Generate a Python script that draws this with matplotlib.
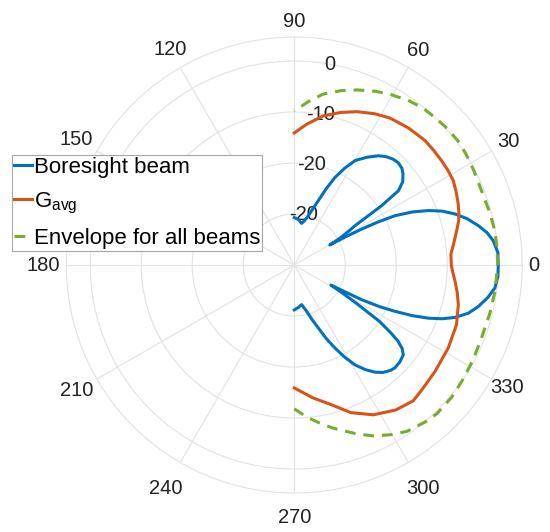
import matplotlib.pyplot as plt
import matplotlib.transforms as mtransforms
import numpy as np

plt.rcParams['font.family'] = ['Liberation Sans', 'DejaVu Sans']

# boresight beam (deg, dB)
bore_deg = [-90, -85, -79.4, -75, -72, -69.1, -66.5, -63.9, -61.3, -58.7, -55.8, -53, -50.5, -47.5, -45.6, -42.5,
            -39.5, -37.8, -36.3, -35.1, -33.5, -31.8, -30.3, -28.6,
            -27.8, -27.2, -26, -24.7, -23.2, -21.6, -20, -18.1, -15.5, -12.7, -9.5, -6.5, -3.2, 0,
            3.5, 7.0, 9.6, 12.1, 15, 17.6, 20, 22.1, 24.2, 26.1, 27.2, 28.1, 28.8, 29.5,
            30.5, 31.8, 32.9, 34.2, 35.5, 37.5, 39.9, 42, 44.6, 47, 50, 52.5, 56, 59.8, 62.5, 65.1,
            67.3, 69.5, 72, 74.5, 77.5, 80.1, 85, 90]
bore_db = [-31.2, -31.6, -32.1, -30.6, -28.8, -26.8, -24.3, -21.9, -19.4, -17.1, -15.2, -13.7, -12.7, -12.0, -11.8, -11.9,
           -12.3, -13.2, -14.7, -16.8, -19.9, -25.2, -28.8, -31.8,
           -28.5, -25.1, -21.4, -18.3, -14.8, -11.7, -9.2, -6.9, -4.6, -3.0, -1.5, -0.4, 0.0, 0.0,
           0.0, -0.7, -1.7, -3.1, -4.9, -6.9, -9.1, -11.6, -14.6, -18.0, -21.5, -25.0, -28.6, -32.0,
           -29.5, -27.6, -25.8, -19.3, -14.9, -13.2, -12.2, -11.6, -11.4, -11.6, -12.2, -13.0, -14.5, -16.3, -18.6, -21.1,
           -23.8, -26.5, -28.6, -30.2, -31.2, -31.7, -31.0, -30.7]

# average gain (deg, dB)
gavg_deg = [-90, -82, -75.5, -69, -62.2, -55, -48.8, -44.4, -37.1, -28.3, -20.2, -13.6, -9.5, -5.8, -2.5, 0,
            4.0, 7, 9.7, 12.5, 15.1, 17.8, 20.4, 24, 27.9, 31.5, 35.3, 39.5, 43.6, 50, 56.9, 62, 67.7, 73, 79, 85, 90]
gavg_db = [-15.9, -13.7, -11.8, -9.0, -6.8, -5.3, -4.6, -5.0, -5.4, -5.7, -6.1, -6.9, -7.6, -8.3, -8.9, -9.2,
           -9.2, -8.6, -8.0, -7.3, -6.6, -6.1, -5.7, -5.2, -4.7, -4.6, -4.6, -4.6, -4.6, -5.0, -5.6, -6.4, -7.5, -8.7, -10.2, -12.3, -14.1]

# envelope for all beams (deg, dB)
env_deg = [-90, -85, -80, -76.5, -70, -65.2, -60, -55.8, -50, -46.2, -40, -34.8, -28, -21.3, -14, -7.5, 0,
           5, 9.7, 15, 21.6, 28, 33, 37.2, 41.8, 46, 50.6, 55, 60.7, 65, 70.2, 75, 80.4, 85, 90]
env_db = [-11.8, -10.0, -8.3, -7.1, -4.8, -3.1, -1.6, -0.6, 0.1, 0.4, 0.3, 0.0, -0.3, -0.6, -0.5, -0.3, -0.1,
          -0.1, -0.1, -0.3, -0.5, -0.2, 0.1, 0.3, 0.2, 0.0, -0.2, -0.7, -1.6, -2.4, -3.5, -4.6, -6.0, -7.8, -9.8]

theta_ticks = np.arange(0, 360, 30)
r_ticks = [-30, -20, -10, 0]
r_labels = ['-20', '-20', '-10', '0']

# extra outward shift of each angle label, in pixels
label_shift = [-3, 5, 5, 1, 6, 9, 8, 9, 15, 10, 15, 3]

fig = plt.figure(figsize=(5.5, 5.32), dpi=100)
ax = fig.add_axes([0.1205, 0.0733, 0.829, 0.857], projection='polar')

kw = dict(lw=2.2, zorder=3, solid_joinstyle='round', dash_joinstyle='round')
ax.plot(np.deg2rad(bore_deg), bore_db, color='#0072BD', label='Boresight beam', **kw)
ax.plot(np.deg2rad(gavg_deg), gavg_db, color='#D95319', label='$\\mathregular{G_{avg}}$', **kw)
ax.plot(np.deg2rad(env_deg), env_db, color='#77AC30', ls=(0, (3.5, 2.6)),
        label='Envelope for all beams', **kw)

ax.set_ylim(-40, 4.7)
ax.set_yticks(r_ticks)
ax.set_yticklabels([])
ax.set_xticks(np.deg2rad(theta_ticks))
ax.set_xticklabels([str(t) for t in theta_ticks], fontsize=14.5, color='#222222')
ax.tick_params(axis='x', pad=0)
ax.grid(color='#e2e2e2', lw=0.8)
ax.spines['polar'].set_color('#e2e2e2')
ax.spines['polar'].set_linewidth(0.8)

for tick, t, s in zip(ax.xaxis.get_major_ticks(), theta_ticks, label_shift):
    off = mtransforms.ScaledTranslation(s * np.cos(np.deg2rad(t)) / 100, s * np.sin(np.deg2rad(t)) / 100,
                                        fig.dpi_scale_trans)
    tick.label1.set_transform(tick.label1.get_transform() + off)

for r, lab in zip(r_ticks, r_labels):
    ax.text(np.deg2rad(80), r, lab, ha='center', va='center', fontsize=14.5, color='#222222', zorder=2)

leg = ax.legend(loc='upper left', bbox_to_anchor=(12 / 550, 1 - 155 / 532), bbox_transform=fig.transFigure,
                fontsize=16, handlelength=0.8, handletextpad=0.08, labelspacing=0.55, borderpad=0.1,
                borderaxespad=0, fancybox=False, framealpha=1, edgecolor='#a6a6a6')
leg.get_frame().set_linewidth(0.8)

fig.savefig('out.png', dpi=100)
